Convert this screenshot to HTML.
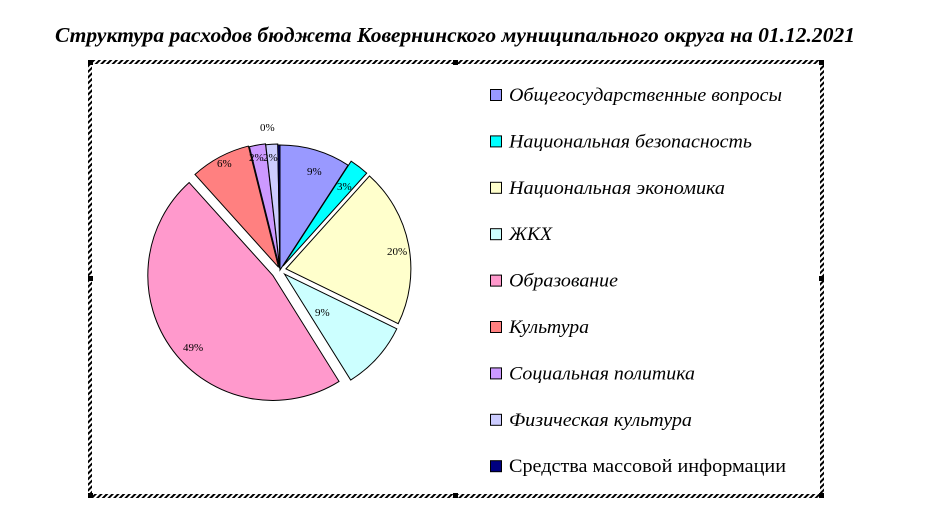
<!DOCTYPE html>
<html><head><meta charset="utf-8"><style>
html,body{margin:0;padding:0;background:#fff;}
svg{display:block;}
</style></head><body>
<svg id="s" width="944" height="530" xmlns="http://www.w3.org/2000/svg">
<defs>
<pattern id="h" width="4" height="4" patternUnits="userSpaceOnUse" patternTransform="rotate(45)">
<rect width="4" height="4" fill="#fff"/><rect width="2" height="4" fill="#000"/>
</pattern>
</defs>
<text x="455" y="42" text-anchor="middle" font-family="Liberation Serif, serif" font-size="21" font-weight="bold" font-style="italic" textLength="800" lengthAdjust="spacingAndGlyphs">Структура расходов бюджета Ковернинского муниципального округа на 01.12.2021</text>
<g fill="url(#h)">
<rect x="88" y="60" width="736" height="4"/>
<rect x="88" y="494" width="736" height="4"/>
<rect x="88" y="60" width="4" height="438"/>
<rect x="820" y="60" width="4" height="438"/>
</g>
<g fill="#000">
<rect x="88" y="60" width="5" height="5"/><rect x="819" y="60" width="5" height="5"/>
<rect x="88" y="493" width="5" height="5"/><rect x="819" y="493" width="5" height="5"/>
<rect x="453" y="60" width="5" height="5"/><rect x="453" y="493" width="5" height="5"/>
<rect x="88" y="276" width="5" height="5"/><rect x="819" y="276" width="5" height="5"/>
</g>
<g id="pie" stroke="#000" stroke-width="1"></g>
<g font-family="Liberation Serif, serif" font-size="11" fill="#000">
<text x="307" y="175">9%</text>
<text x="337" y="190">3%</text>
<text x="387" y="255">20%</text>
<text x="315" y="316">9%</text>
<text x="183" y="351">49%</text>
<text x="217" y="167">6%</text>
<text x="249" y="161">2%</text>
<text x="263" y="161">2%</text>
<text x="260" y="131">0%</text>
</g>
<g id="leg" font-family="Liberation Serif, serif" font-size="19" font-style="italic"></g>
</svg>
<script>
var cx=280,cy=270,r=125;
var sl=[[0,33,'#9999ff',0],[33,42,'#00ffff',5],[42,116,'#ffffcc',6],[116,148,'#ccffff',6],[148,318,'#ff99cc',9],[318,346,'#ff8080',3],[346,353.5,'#cc99ff',2],[353.5,359,'#ccccff',1],[359,360,'#000080',0]];
var g=document.getElementById('pie'),h='';
function pt(a,ox,oy,rr){var t=a*Math.PI/180;return [ox+rr*Math.sin(t),oy-rr*Math.cos(t)];}
sl.forEach(function(s){var m=(s[0]+s[1])/2*Math.PI/180;var ox=cx+s[3]*Math.sin(m),oy=cy-s[3]*Math.cos(m);
var p1=pt(s[0],ox,oy,r),p2=pt(s[1],ox,oy,r),lg=(s[1]-s[0])>180?1:0;
h+='<path d="M'+ox+','+oy+' L'+p1[0]+','+p1[1]+' A'+r+','+r+' 0 '+lg+' 1 '+p2[0]+','+p2[1]+' Z" fill="'+s[2]+'"/>';});
g.innerHTML=h;
var L=[['Общегосударственные вопросы','#9999ff',273],['Национальная безопасность','#00ffff',243],['Национальная экономика','#ffffcc',216],['ЖКХ','#ccffff',43],['Образование','#ff99cc',109],['Культура','#ff8080',80],['Социальная политика','#cc99ff',186],['Физическая культура','#ccccff',183],['Средства массовой информации','#000080',277]];
var lh='';L.forEach(function(l,i){var y=95+i*46.4;
lh+='<rect x="490.5" y="'+(y-5.5)+'" width="11" height="11" fill="'+l[1]+'" stroke="#000"/>';
lh+='<text x="509" y="'+(y+6)+'" textLength="'+l[2]+'" lengthAdjust="spacingAndGlyphs"'+(i==8?' font-style="normal"':'')+'>'+l[0]+'</text>';});
document.getElementById('leg').innerHTML=lh;
</script>
</body></html>
